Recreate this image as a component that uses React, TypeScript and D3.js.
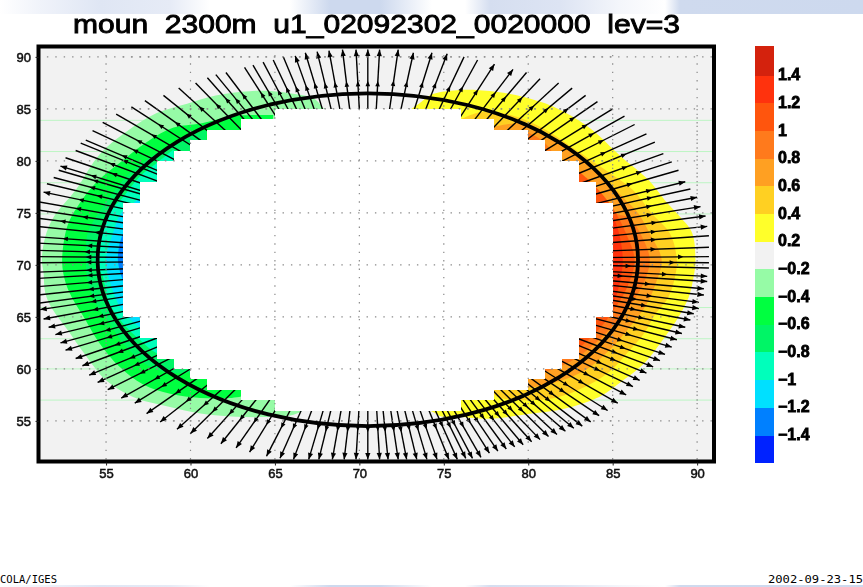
import React, { useEffect, useRef } from "react";
import * as d3 from "d3";

const width = 863;
const height = 587;

const title = "moun  2300m  u1_02092302_0020000  lev=3";
const leftStamp = "COLA/IGES";
const rightStamp = "2002-09-23-15";

const lonTicks = [55, 60, 65, 70, 75, 80, 85, 90];
const latTicks = [55, 60, 65, 70, 75, 80, 85, 90];
const faintLats = [83.9, 80.9, 77.9, 74.9, 65.9, 62.9, 60, 57];

// colour bar, top to bottom
const barColors = [
  "#d4240d", "#ff3311", "#ff5511", "#ff7a1a", "#ffa020", "#ffd024", "#ffff2a", "#f2f2f2",
  "#96fba6", "#00ff3f", "#00f566", "#00ffbb", "#00e0ff", "#0080ff", "#0020ff",
];
const barLabels = [
  "1.4", "1.2", "1", "0.8", "0.6", "0.4", "0.2",
  "\u22120.2", "\u22120.4", "\u22120.6", "\u22120.8", "\u22121", "\u22121.2", "\u22121.4",
];

// terrain mask, one row per stair step: south, north, west, east
const maskRows = [
  [84, 85, 65, 76], [83, 84, 63, 78], [82, 83, 61, 80], [81, 82, 60, 81], [80, 81, 59, 82],
  [78, 80, 58, 83], [76, 78, 57, 84], [65, 76, 56, 85], [63, 65, 57, 84], [61, 63, 58, 83],
  [60, 61, 59, 82], [59, 60, 60, 81], [58, 59, 61, 80], [57, 58, 63, 78], [56, 57, 65, 76],
];

// contours as [lon, lat]
const contourM02 = [
  [68, 84.8], [67.3, 86], [66.3, 86.4], [64.9, 86.7], [63.5, 86.7], [61.5, 86.3], [59.8, 85.5], [58, 84.6],
  [56.2, 82.8], [54.6, 80.6], [53.2, 77.2], [51.9, 74.6], [51.4, 72.7], [51.2, 70.5], [51.3, 69.2], [51.4, 67.3],
  [51.8, 65.8], [52.7, 63.8], [53.7, 61.5], [55, 58.9], [56.6, 57.3], [58.6, 56.4], [60.6, 55.7], [62.7, 55.4],
  [64.9, 55.4], [66.1, 55.6], [66.9, 56.2],
];
const contourM04 = [
  [64.9, 84.4], [62.5, 84.3], [60.6, 83.6], [59, 83.2], [57.4, 81.8], [55.8, 79.8], [54.4, 77.9], [53.3, 75.6],
  [52.7, 73.7], [52.4, 70.3], [52.6, 68.3], [53, 66.8], [53.6, 65.2], [54.6, 62.5], [55.8, 60.2], [57.2, 58.5],
  [58.8, 57.6], [60.6, 57.2], [62.3, 57.2], [63.2, 57.4],
];
const contourM06 = [
  [60.95, 83], [60.4, 82.7], [59, 81.7], [57.4, 80.1], [56.2, 78.5], [55.2, 76.5], [54.4, 74.6], [53.9, 73],
  [53.8, 70.5], [53.9, 68.6], [54.4, 66.3], [55.2, 64.4], [56.2, 62.1], [57.4, 60.4], [58.8, 59.6], [60.1, 59.7],
];
const contourM08 = [
  [59, 81.1], [58, 79.8], [57, 78.5], [56, 76.5], [55.2, 75], [54.8, 73], [54.35, 70.5], [54.8, 68.9],
  [55.2, 66.3], [56, 64.4], [57, 62.8], [58, 61.5], [59.1, 61],
];
const contourM10 = [
  [58, 78], [57, 76.4], [55.9, 75], [55.4, 73], [55, 70.5], [55.3, 68], [56, 65.5], [57, 64],
];
const contourM12 = [[56, 73], [55.8, 72], [55.7, 70.5], [55.8, 69.5], [56, 68.5]];

const contourP02 = [
  [72.9, 84.8], [73.6, 85.6], [74.3, 86.4], [75.8, 86.8], [77.1, 86.8], [78.3, 86.6], [79.6, 86.2], [81.5, 85.2],
  [83.6, 83.2], [85.5, 80.4], [87.1, 78.2], [88.1, 76.2], [89, 74.6], [89.7, 73.1], [89.9, 70.5], [89.8, 68.9],
  [89.5, 66.9], [88.9, 65], [88.1, 63.1], [86.9, 60.6], [85.7, 59], [84.2, 57.3], [82.2, 56.2], [80.2, 55.7],
  [77.7, 55.2], [75.9, 55.4], [74.9, 55.4], [74.3, 55.9], [73.8, 56.2],
];
const contourP04 = [
  [75.9, 83.9], [77.2, 84.7], [79, 84.4], [80.8, 83.2], [82.6, 81.3], [84.6, 79.1], [86.2, 77.2], [87.3, 75],
  [88.4, 73], [88.8, 70.5], [88.7, 68.9], [88.3, 66.9], [87.5, 65.2], [86.9, 63.5], [85.9, 61.6], [84.8, 59.7],
  [83.4, 58.3], [81.8, 57.3], [80.2, 57], [78.2, 57.3], [77.8, 58],
];
const contourP06 = [
  [77.8, 83.2], [79.8, 83.6], [81.4, 82.3], [83, 80.4], [84.4, 78.5], [85.6, 76.5], [86.5, 75], [87.2, 73],
  [87.9, 70.5], [87.5, 68], [87, 66.2], [86, 64], [84.8, 61.8], [83.4, 59.9], [81.6, 58.7], [79.9, 58.2], [78.8, 58.4],
];
const contourP08 = [
  [79.9, 82.8], [80.8, 82], [81.7, 80.4], [83.1, 78.8], [84.3, 76.9], [85.2, 75], [86, 74.5], [86.8, 72.5],
  [87.2, 70.5], [86.9, 68.5], [86.2, 66.5], [85.2, 64.5], [84, 62.5], [82.5, 60.7], [81, 59.7], [79.9, 59.4],
];
const contourP10 = [
  [83, 79], [84, 77.5], [85, 75.5], [85.8, 73], [86.3, 70.5], [85.9, 68], [85, 65.5], [84, 63.5], [83, 62], [82, 61],
];
const contourP12 = [[84.8, 75.5], [85.3, 73.5], [85.6, 70.5], [85.3, 67.5], [84.8, 65.5]];

const shadedBands: [number[][], number][] = [
  [contourM02, 8], [contourM04, 9], [contourM06, 10], [contourM08, 11], [contourM10, 12], [contourM12, 13],
  [contourP02, 6], [contourP04, 5], [contourP06, 4], [contourP08, 3], [contourP10, 2], [contourP12, 1],
];

// black ring
const ringLon = 70.5;
const ringLat = 70.5;
const ringRadius = 16;

// arrows: tip lon, tip lat, radius of the inner head, head on the tip (1) or not (0)
const arrowsNorthEast = [
  [69.8, 90.7, 17.2, 1], [70.5, 90.7, 17.2, 1], [71.2, 90.7, 17.2, 1], [72.3, 90.7, 17.3, 1], [73.2, 90.4, 17.3, 1],
  [74.3, 90.4, 17.4, 1], [75.2, 90.3, 17.5, 1], [76.2, 90, 17.4, 0], [77, 89.7, 17.6, 0], [78, 89.3, 17.6, 1],
  [79.1, 88.8, 17.8, 1], [79.9, 88.5, 17.7, 0], [80.7, 87.9, 18.1, 0], [81.8, 87.5, 17.8, 0], [82.6, 87, 18.1, 0],
  [83.4, 86.3, 18.8, 0], [84.1, 85.7, 18.4, 0], [85, 85, 18.4, 0], [85.7, 84.3, 18.1, 0], [86.3, 83.5, 18.1, 0],
  [87, 82.6, 17.5, 0], [87.5, 81.8, 18.4, 0], [88, 80.7, 17.8, 0], [88.5, 79.9, 18.3, 0], [88.9, 79.1, 17.3, 0],
  [89.3, 78, 18.1, 1], [89.6, 77.3, 17.9, 0], [90, 76.5, 17.6, 1], [90.2, 75.6, 17.4, 1], [90.5, 74.7, 17.5, 1],
  [90.6, 73.7, 17.3, 1], [90.7, 72.8, 17.2, 0],
];
const arrowsEast = [
  [90.7, 71.7, 17.1, 0], [90.7, 70.8, 18.7, 0], [90.7, 70.2, 18.2, 0], [90.7, 69.7, 15.6, 0], [90.6, 68.9, 17.8, 1],
  [90.6, 68.4, 15.2, 1], [90.4, 67.7, 16.9, 1], [90.4, 67.1, 16.3, 1], [90.1, 66.4, 17.2, 1], [90.1, 65.8, 16.4, 1],
  [89.8, 65.3, 17.1, 1], [89.6, 64.7, 16.6, 1], [89.3, 64, 17.3, 1], [89.1, 63.4, 16.7, 1], [88.8, 62.8, 17.4, 1],
  [88.5, 62.1, 17.2, 1], [88.1, 61.4, 17, 1], [87.8, 60.8, 17.5, 1], [87.4, 60.2, 17.3, 1], [87, 59.6, 17.6, 1],
  [86.6, 58.9, 17.1, 1], [86.2, 58.3, 17.4, 1], [85.8, 57.5, 17.2, 1], [85.3, 56.7, 17.5, 1], [84.7, 56, 17, 1],
];
const arrowsSouthEast = [
  [84.2, 55.5, 17.3, 1], [83.7, 54.9, 17.1, 1], [83.2, 54.5, 17.4, 1], [82.7, 54.3, 17, 1], [82.2, 54, 17.2, 1],
  [81.7, 53.7, 17.1, 1], [81.2, 53.5, 17.3, 1], [80.7, 53.2, 16.9, 1], [80.2, 53, 17.1, 1], [79.7, 52.7, 17, 1],
  [79.2, 52.5, 17.2, 1], [78.7, 52.3, 16.8, 1], [78.2, 52.1, 17, 1], [77.7, 51.9, 16.9, 1], [77.2, 51.5, 17.1, 1],
  [76.7, 51.4, 16.8, 1], [76.3, 51.4, 16.9, 1], [75.8, 51.3, 16.7, 1], [75.3, 51.3, 16.8, 1],
];
const arrowsSouth = [
  [74.6, 51.3, 16.7, 1], [74, 51.3, 16.7, 1], [73.4, 51.3, 16.6, 1], [72.8, 51.3, 16.7, 1], [72.3, 51.3, 16.6, 1],
  [71.7, 51.3, 16.6, 1], [71.2, 51.3, 16.5, 1], [70.5, 51.3, 16.6, 1], [69.8, 51.3, 16.5, 1], [69.1, 51.3, 16.6, 1],
  [68.4, 51.3, 16.6, 1], [67.6, 51.3, 16.7, 1], [67, 51.3, 16.6, 1], [66.1, 51.3, 16.8, 1], [65.3, 51.4, 16.9, 1],
  [64.5, 51.6, 17, 1], [63.5, 52, 17, 1], [62.7, 52.4, 17.1, 1],
];
const arrowsSouthWest = [
  [61.8, 52.8, 17.2, 1], [61, 53.3, 17, 1], [60, 53.8, 17.3, 1], [59.2, 54.2, 17.1, 1], [58.2, 54.9, 17.4, 1],
  [57.4, 55.7, 17.2, 1], [56.7, 56.7, 17.3, 1], [55.9, 57.2, 17.1, 1], [55.1, 58, 17.4, 1], [54.5, 58.7, 17.2, 1],
  [54, 59.4, 17, 1], [53.6, 60.3, 17.3, 1], [53.2, 61, 17.1, 1], [52.6, 61.8, 17.2, 1], [52.3, 62.5, 17, 1],
  [52, 63.3, 17.1, 1], [51.6, 64, 16.9, 1], [51.3, 64.8, 17, 1], [51.1, 65.7, 16.9, 1],
];
const arrowsWest = [
  [50.9, 66.3, 16.9, 0], [50.9, 67.1, 16.8, 0], [50.9, 67.9, 16.8, 0], [50.9, 68.7, 16.7, 0], [50.9, 69.3, 16.7, 0],
  [50.9, 70.2, 16.7, 0], [50.9, 70.8, 16.7, 0], [50.9, 71.4, 16.8, 0], [50.9, 72.1, 16.7, 0], [50.9, 72.7, 18.2, 0],
  [50.9, 73.7, 16.4, 0], [50.9, 74.5, 18.6, 0], [50.9, 75.3, 17.4, 0], [50.9, 76.1, 18, 0],
];
const arrowsNorthWest = [
  [51.3, 77, 18.1, 1], [51.5, 77.8, 17.2, 0], [51.9, 78.4, 17.9, 0], [52.2, 79.1, 18, 0], [52.3, 79.5, 18.3, 1],
  [52.6, 80.3, 17.3, 0], [53.2, 81, 17.9, 0], [53.5, 81.7, 17.4, 0], [53.8, 82, 17.7, 0], [54.2, 82.9, 17.5, 0],
  [54.8, 83.7, 17.9, 0], [55.6, 84.5, 17.6, 0], [56.5, 85.2, 18, 0], [57.3, 85.8, 17.5, 0], [58.4, 86.3, 17.7, 0],
  [59.3, 87, 17.8, 0], [60.3, 87.5, 17.5, 0], [61, 88, 17.7, 0], [61.5, 88.3, 17.4, 0], [62.1, 88.5, 17.6, 0],
  [63.2, 89, 17.3, 0], [63.7, 89.2, 17.3, 0], [64.3, 89.5, 17.2, 0], [64.9, 89.7, 17.3, 0], [65.5, 90, 17.2, 0],
  [66.2, 90.1, 17.2, 1], [66.8, 90.4, 17.3, 1], [67.5, 90.5, 17.2, 1], [68.2, 90.6, 17.2, 1], [69, 90.7, 17.2, 1],
];
const allArrows = [
  ...arrowsNorthEast, ...arrowsEast, ...arrowsSouthEast, ...arrowsSouth,
  ...arrowsSouthWest, ...arrowsWest, ...arrowsNorthWest,
];
const arrowInnerRadius = 13.5;

const x = d3.scaleLinear().domain([51, 91]).range([38.5, 714]);
const y = d3.scaleLinear().domain([51, 91]).range([462.5, 46.5]);
const barY = d3.scaleLinear().domain([1, 14]).range([75.7, 435.5]);
const barTop = 45.5;
const barBottom = 463;
const barLeft = 755;
const barRight = 774;

const contourLine = d3
  .line<number[]>()
  .x((d) => x(d[0]))
  .y((d) => y(d[1]))
  .curve(d3.curveCatmullRom.alpha(0.5));

const plainLine = d3.line();

const stripStops: [number, string][] = [
  [0, "#ffffff"], [40, "#f0f3fa"], [100, "#dfe6f4"], [170, "#e6ebf6"], [210, "#ffffff"], [290, "#ffffff"],
  [330, "#cdd9ee"], [380, "#cdd9ee"], [432, "#ffffff"], [465, "#ffffff"], [490, "#d5def0"], [560, "#dde4f3"],
  [620, "#f4f6fb"], [665, "#ffffff"], [680, "#cfdaee"], [863, "#cdd9ee"],
];

// triangle with its point at (px, py), pointing along ang
const headPath = (px: number, py: number, ang: number, len: number, half: number) => {
  const p = d3.path();
  const bx = px - len * Math.cos(ang);
  const by = py - len * Math.sin(ang);
  p.moveTo(px, py);
  p.lineTo(bx - half * Math.sin(ang), by + half * Math.cos(ang));
  p.lineTo(bx + half * Math.sin(ang), by - half * Math.cos(ang));
  p.closePath();
  return p.toString();
};

const Arrow = ({ d }: { d: number[] }) => {
  const [tipLon, tipLat, headR, tipHead] = d;
  const dLon = tipLon - ringLon;
  const dLat = tipLat - ringLat;
  const r = Math.hypot(dLon, dLat);
  const at = (rad: number): [number, number] => [
    x(ringLon + (dLon / r) * rad),
    y(ringLat + (dLat / r) * rad),
  ];
  const start = at(arrowInnerRadius);
  const tip = at(r);
  const mid = at(headR);
  const ang = Math.atan2(tip[1] - start[1], tip[0] - start[0]);
  return (
    <g>
      <path d={plainLine([start, tip]) as string} fill="none" stroke="#000" strokeWidth={1.4} />
      <path d={headPath(mid[0], mid[1], ang, 5.5, 2.3)} fill="#000" />
      {tipHead === 1 && <path d={headPath(tip[0], tip[1], ang, 6.5, 2.6)} fill="#000" />}
    </g>
  );
};

const App = () => {
  const axisBottomRef = useRef<SVGGElement>(null);
  const axisLeftRef = useRef<SVGGElement>(null);

  useEffect(() => {
    const bottom = d3.select(axisBottomRef.current as SVGGElement);
    bottom.call(d3.axisBottom(x).tickValues(lonTicks).tickSize(3).tickPadding(3).tickFormat(d3.format("d")) as any);
    const left = d3.select(axisLeftRef.current as SVGGElement);
    left.call(d3.axisLeft(y).tickValues(latTicks).tickSize(3).tickPadding(4.5).tickFormat(d3.format("d")) as any);
    [bottom, left].forEach((g) => {
      g.select(".domain").remove();
      g.selectAll("line").attr("stroke", "#222").attr("stroke-width", 1);
      g.selectAll("text")
        .attr("fill", "#111")
        .attr("stroke", "#111")
        .attr("stroke-width", 0.5)
        .style("font-family", "'Liberation Sans', sans-serif")
        .style("font-size", "13px");
    });
  }, []);

  const plotW = x(91) - x(51);
  const plotH = y(51) - y(91);

  return (
    <svg
      width={width}
      height={height}
      style={{ position: "absolute", left: 0, top: 0, background: "#fff" }}
    >
      <defs>
        <linearGradient id="strip" gradientUnits="userSpaceOnUse" x1={0} x2={width} y1={0} y2={0}>
          {stripStops.map(([px, c]) => (
            <stop key={px} offset={px / width} stopColor={c} />
          ))}
        </linearGradient>
        <clipPath id="plot">
          <rect x={x(51)} y={y(91)} width={plotW} height={plotH} />
        </clipPath>
        <filter id="soft" x="-2%" y="-2%" width="104%" height="104%">
          <feGaussianBlur stdDeviation={0.5} />
        </filter>
      </defs>

      <rect x={0} y={0} width={width} height={14} fill="url(#strip)" />
      <rect x={0} y={585} width={width} height={2} fill="url(#strip)" />

      <g filter="url(#soft)">
        <text
          x={376.5}
          y={33}
          textAnchor="middle"
          textLength={607}
          lengthAdjust="spacingAndGlyphs"
          fontFamily="'Liberation Sans', sans-serif"
          fontSize={26}
          stroke="#000"
          strokeWidth={0.9}
          style={{ whiteSpace: "pre" }}
        >
          {title}
        </text>

        <g clipPath="url(#plot)">
          <rect x={x(51)} y={y(91)} width={plotW} height={plotH} fill="#f2f2f2" />
          {faintLats.map((lat) => (
            <line key={lat} x1={x(51)} x2={x(91)} y1={y(lat)} y2={y(lat)} stroke="#bdf5c4" strokeWidth={1} />
          ))}
          {shadedBands.map(([pts, colorIndex], i) => (
            <path key={i} d={(contourLine(pts) as string) + "Z"} fill={barColors[colorIndex]} />
          ))}
          {lonTicks.map((lon) => (
            <line
              key={lon}
              x1={x(lon)}
              x2={x(lon)}
              y1={y(91)}
              y2={y(51)}
              stroke="#8a8a8a"
              strokeWidth={1.2}
              strokeDasharray="1.4 7"
            />
          ))}
          {latTicks.map((lat) => (
            <line
              key={lat}
              x1={x(51)}
              x2={x(91)}
              y1={y(lat)}
              y2={y(lat)}
              stroke="#8a8a8a"
              strokeWidth={1.2}
              strokeDasharray="1.4 7"
            />
          ))}
          {allArrows.map((d, i) => (
            <Arrow key={i} d={d} />
          ))}
          {maskRows.map(([south, north, west, east]) => (
            <rect
              key={south}
              x={x(west)}
              y={y(north)}
              width={x(east) - x(west)}
              height={y(south) - y(north)}
              fill="#fff"
              shapeRendering="crispEdges"
            />
          ))}
          {/* the dotted grid shows through the white terrain too */}
          {lonTicks.map((lon) => (
            <line
              key={lon}
              x1={x(lon)}
              x2={x(lon)}
              y1={y(85)}
              y2={y(56)}
              stroke="#8a8a8a"
              strokeWidth={1.2}
              strokeDasharray="1.4 7"
            />
          ))}
          {latTicks.map((lat) => (
            <line
              key={lat}
              x1={x(56)}
              x2={x(85)}
              y1={y(lat)}
              y2={y(lat)}
              stroke="#8a8a8a"
              strokeWidth={1.2}
              strokeDasharray="1.4 7"
            />
          ))}
          <ellipse
            cx={x(ringLon)}
            cy={y(ringLat)}
            rx={x(ringLon + ringRadius) - x(ringLon)}
            ry={y(ringLat) - y(ringLat + ringRadius)}
            fill="none"
            stroke="#000"
            strokeWidth={3.8}
          />
        </g>

        <rect x={x(51)} y={y(91)} width={plotW} height={plotH - 1} fill="none" stroke="#000" strokeWidth={4} />
        <g ref={axisBottomRef} transform={`translate(0,${y(51)})`} />
        <g ref={axisLeftRef} transform={`translate(${x(51)},0)`} />

        {barColors.map((c, i) => {
          const top = i === 0 ? barTop : barY(i);
          const bottom = i === barColors.length - 1 ? barBottom : barY(i + 1);
          return (
            <rect
              key={c}
              x={barLeft}
              y={top}
              width={barRight - barLeft}
              height={bottom - top}
              fill={c}
              shapeRendering="crispEdges"
            />
          );
        })}
        {barLabels.map((label, i) => (
          <text
            key={label}
            x={778}
            y={barY(i + 1) + 4.5}
            fontFamily="'Liberation Sans', sans-serif"
            fontWeight="bold"
            fontSize={16}
            stroke="#000"
            strokeWidth={0.8}
          >
            {label}
          </text>
        ))}
      </g>

      <text x={0} y={583} fontFamily="'DejaVu Sans Mono', monospace" fontSize={10} textLength={57} lengthAdjust="spacingAndGlyphs">
        {leftStamp}
      </text>
      <text x={768} y={583} fontFamily="'DejaVu Sans Mono', monospace" fontSize={11} textLength={95} lengthAdjust="spacingAndGlyphs">
        {rightStamp}
      </text>
    </svg>
  );
};

export default App;
